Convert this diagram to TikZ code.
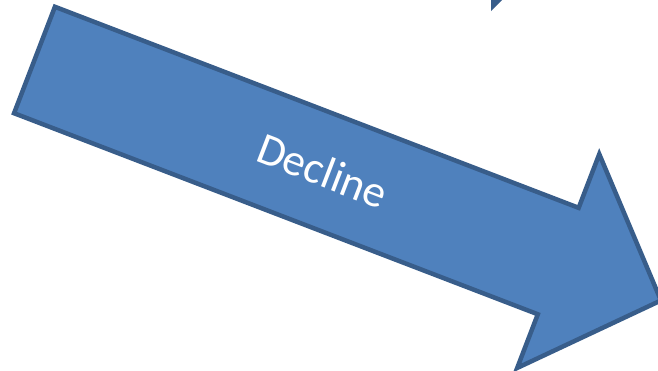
\documentclass[tikz,border=0pt]{standalone}
\usepackage{fontspec}
\setmainfont{Carlito}
\definecolor{arrowfill}{HTML}{4F81BD}
\definecolor{arrowline}{HTML}{385D8A}
\tikzset{
  bigarrow/.style={fill=arrowfill,draw=arrowline,line width=4.5pt,line join=miter},
  arrowtext/.style={text=white,font=\fontsize{45}{52}\selectfont,inner sep=0pt}
}
\begin{document}
\begin{tikzpicture}[x=1pt,y=-1pt]
\useasboundingbox (0,0) rectangle (658,370);
\clip (0,0) rectangle (658,370);
\fill[arrowline] (491,0) -- (502,0) -- (491,11) -- cycle;
\begin{scope}[shift={(34.5,60)},rotate=-21]
  \draw[bigarrow] (0,-57) -- (561,-57) -- (561,-114.5) -- (671,0) -- (561,114.5) -- (561,57) -- (0,57) -- cycle;
  \node[arrowtext,rotate=-21] (label) at (309,0) {Decline};
\end{scope}
\end{tikzpicture}
\end{document}
